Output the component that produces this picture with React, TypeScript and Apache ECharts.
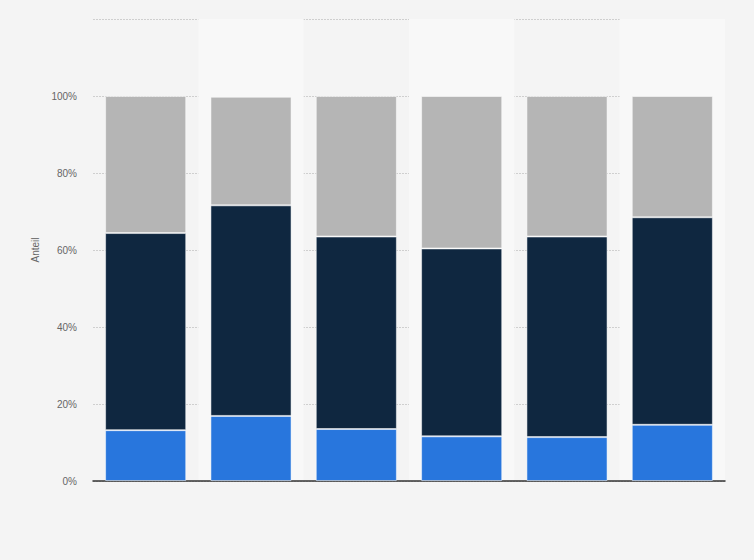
import React, { useEffect, useRef } from 'react';
import * as echarts from 'echarts';

const categories = ['1', '2', '3', '4', '5', '6'];
const blueValues = [13.2, 16.9, 13.5, 11.6, 11.4, 14.6];
const darkValues = [51.2, 54.7, 50.0, 48.8, 52.1, 53.9];
const grayValues = [35.6, 28.2, 36.5, 39.6, 36.5, 31.5];
const yTicks = [0, 20, 40, 60, 80, 100, 120];

const App: React.FC = () => {
  const elRef = useRef<HTMLDivElement | null>(null);

  useEffect(() => {
    if (!elRef.current) return;
    const chart = echarts.init(elRef.current, undefined, { renderer: 'svg' });

    const segBorder = { borderColor: 'rgba(255,255,255,0.5)', borderWidth: 1 };

    const opt: echarts.EChartsOption = {
      animation: false,
      backgroundColor: '#f4f4f4',
      grid: { left: 93, right: 29, top: 19, bottom: 79 },
      xAxis: {
        type: 'category',
        data: categories,
        axisLabel: { show: false },
        axisTick: { show: false },
        axisLine: { lineStyle: { color: '#333', width: 1.5 } },
        splitArea: { show: true, areaStyle: { color: ['rgba(0,0,0,0)', '#f8f8f8'] } },
      },
      yAxis: {
        type: 'value',
        min: 0,
        max: yTicks[yTicks.length - 1],
        interval: 20,
        name: 'Anteil',
        nameLocation: 'middle',
        nameGap: 49,
        nameTextStyle: { color: '#666', fontSize: 10, fontFamily: 'Arial, Liberation Sans, sans-serif' },
        axisLabel: {
          color: '#666',
          fontSize: 10,
          margin: 16,
          fontFamily: 'Arial, Liberation Sans, sans-serif',
          formatter: (v: number) => (v > 100 ? '' : `${v}%`),
        },
        axisLine: { show: false },
        axisTick: { show: false },
        splitLine: { lineStyle: { color: '#cfcfcf', type: [2, 1] } },
      },
      series: [
        {
          name: 'A',
          type: 'bar',
          stack: 'total',
          data: blueValues,
          barWidth: '77%',
          itemStyle: { color: '#2876dd', ...segBorder },
        },
        {
          name: 'B',
          type: 'bar',
          stack: 'total',
          data: darkValues,
          itemStyle: { color: '#0f2740', ...segBorder },
        },
        {
          name: 'C',
          type: 'bar',
          stack: 'total',
          data: grayValues,
          itemStyle: { color: '#b5b5b5', ...segBorder },
        },
      ],
    };

    chart.setOption(opt, true);
    return () => {
      chart.dispose();
    };
  }, []);

  return <div ref={elRef} style={{ width: 754, height: 560, position: 'absolute', left: 0, top: 0 }} />;
};

export default App;
